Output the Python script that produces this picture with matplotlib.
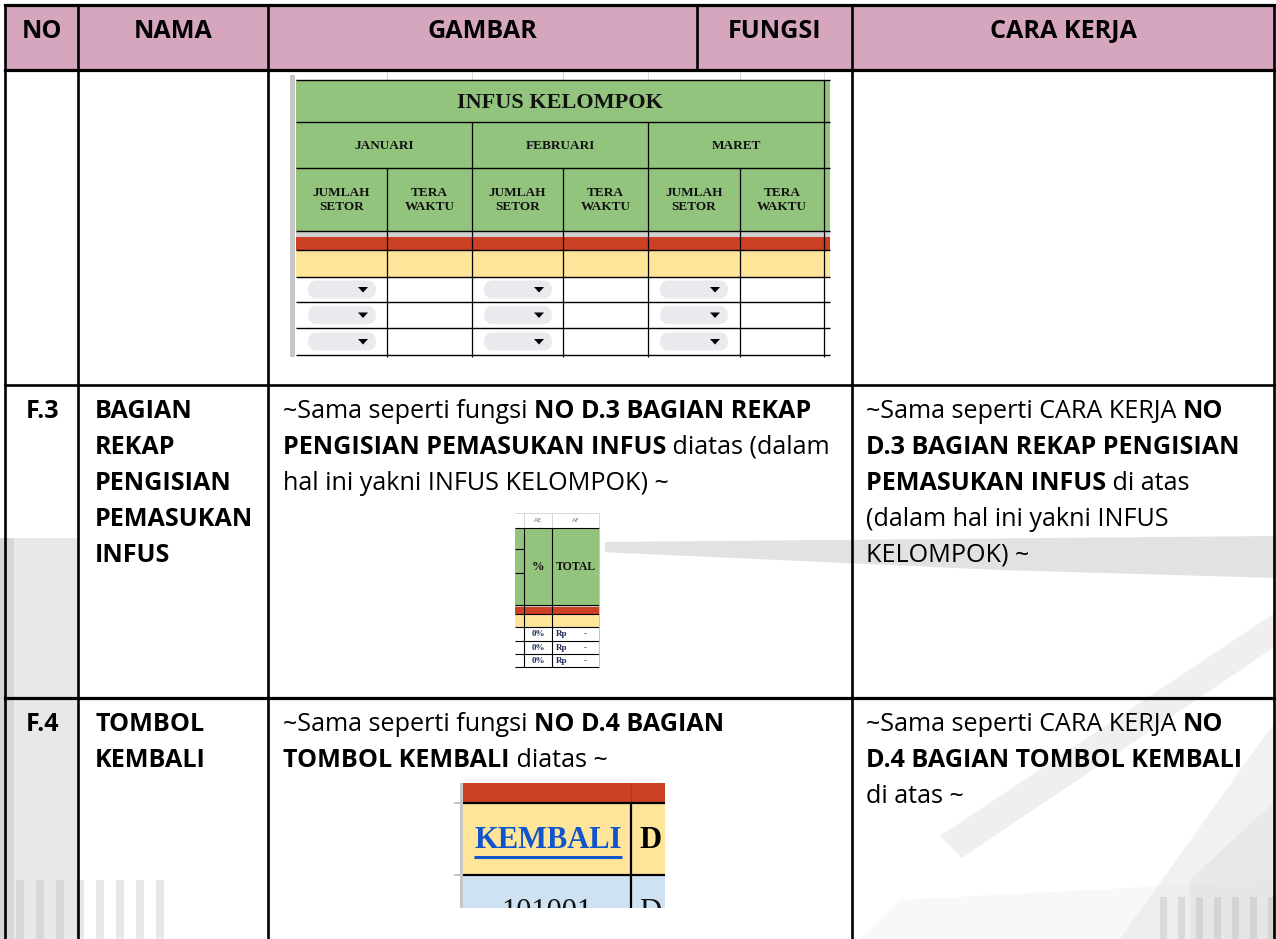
import matplotlib
matplotlib.use("Agg")
import matplotlib.pyplot as plt
from matplotlib.patches import Rectangle, FancyBboxPatch, Polygon

# ---------------- content ----------------
headers = ["NO", "NAMA", "GAMBAR", "FUNGSI", "CARA KERJA"]
row_no = ["F.3", "F.4"]
row_nama = [["BAGIAN", "REKAP", "PENGISIAN", "PEMASUKAN", "INFUS"],
            ["TOMBOL", "KEMBALI"]]
row_gambar = [
    [[("~Sama seperti fungsi ", False), ("NO D.3 BAGIAN REKAP", True)],
     [("PENGISIAN PEMASUKAN INFUS", True), (" diatas (dalam", False)],
     [("hal ini yakni INFUS KELOMPOK) ~", False)]],
    [[("~Sama seperti fungsi ", False), ("NO D.4 BAGIAN", True)],
     [("TOMBOL KEMBALI", True), (" diatas ~", False)]],
]
row_cara = [
    [[("~Sama seperti CARA KERJA ", False), ("NO", True)],
     [("D.3 BAGIAN REKAP PENGISIAN", True)],
     [("PEMASUKAN INFUS", True), (" di atas", False)],
     [("(dalam hal ini yakni INFUS", False)],
     [("KELOMPOK) ~", False)]],
    [[("~Sama seperti CARA KERJA ", False), ("NO", True)],
     [("D.4 BAGIAN TOMBOL KEMBALI", True)],
     [("di atas ~", False)]],
]
sheet_title = "INFUS KELOMPOK"
sheet_months = ["JANUARI", "FEBRUARI", "MARET"]
sheet_sub = ["JUMLAH\nSETOR", "TERA\nWAKTU"]
sheet2_heads = ["AE", "AF"]
sheet2_cols = ["%", "TOTAL"]
sheet2_vals = ["0%", "0%", "0%"]
sheet3_link = "KEMBALI"
sheet3_code = "101001"

# ---------------- colours ----------------
PINK = "#d5a6bd"
GREEN = "#93c47d"
RED = "#cc4125"
YELLOW = "#ffe599"
LBLUE = "#cfe2f3"
SANS = "Open Sans"
SERIF = "Liberation Serif"
FS = 18.1

W, H = 1276, 939
fig = plt.figure(figsize=(W / 100, H / 100), dpi=100)
ax = fig.add_axes([0, 0, 1, 1])
ax.set_xlim(0, W)
ax.set_ylim(H, 0)
ax.axis("off")
fig.patch.set_facecolor("white")
renderer = fig.canvas.get_renderer()

# ---------------- faded background photo ----------------
wm = [
    (Rectangle((0, 538), 78, 401), "#d2d2d2", 0.5),
    (Rectangle((0, 538), 14, 401), "#b0b0b0", 0.3),
    (Polygon([(600, 542), (1276, 536), (1276, 578), (1000, 570), (600, 552)]), "#c6c6c6", 0.5),
    (Polygon([(940, 836), (1276, 612), (1276, 646), (962, 858)]), "#c9bfc5", 0.25),
    (Polygon([(1120, 939), (1276, 720), (1276, 939)]), "#d3d3d3", 0.3),
    (Polygon([(1190, 880), (1276, 800), (1276, 939), (1190, 939)]), "#c4c4c4", 0.2),
    (Polygon([(860, 939), (900, 900), (1276, 880), (1276, 939)]), "#e4e4e4", 0.25),
]
for x0 in range(16, 165, 20):
    wm.append((Rectangle((x0, 880), 8, 59), "#b5b5b5", 0.3))
for x0 in range(1160, 1276, 18):
    wm.append((Rectangle((x0, 897), 7, 42), "#b5b5b5", 0.35))
for p, c, a in wm:
    p.set_facecolor(c)
    p.set_edgecolor("none")
    p.set_alpha(a)
    p.set_zorder(1)
    ax.add_patch(p)

# ---------------- table frame ----------------
X_L, X_NO, X_NAMA, X_GAM, X_FUN, X_R = 5, 78, 268, 697, 852, 1274
Y_T, Y_H, Y_1, Y_2 = 5, 70, 385, 698
ax.add_patch(Rectangle((X_L, Y_T), X_R - X_L, Y_H - Y_T, facecolor=PINK, edgecolor="none", zorder=2))

LW = 1.9
def hline(y, x0, x1, lw=LW, c="black", z=6):
    ax.plot([x0, x1], [y, y], color=c, lw=lw, zorder=z, solid_capstyle="projecting")
def vline(x, y0, y1, lw=LW, c="black", z=6):
    ax.plot([x, x], [y0, y1], color=c, lw=lw, zorder=z, solid_capstyle="projecting")

hline(Y_T, X_L, X_R, lw=2.3)
hline(Y_H, X_L, X_R, lw=2.3)
hline(Y_1, X_L, X_R)
hline(Y_2, X_L, X_R, lw=2.3)
for x in (X_L, X_NO, X_NAMA, X_FUN, X_R):
    vline(x, Y_T, H + 5)
vline(X_GAM, Y_T, Y_H)

# ---------------- header text ----------------
hx = [(X_L + X_NO) / 2, (X_NO + X_NAMA) / 2, (X_NAMA + X_GAM) / 2,
      (X_GAM + X_FUN) / 2, (X_FUN + X_R) / 2]
for x, t in zip(hx, headers):
    ax.text(x, 38, t, ha="center", va="baseline", fontsize=FS, fontweight="bold",
            family=SANS, color="black", zorder=7)

# ---------------- text helpers ----------------
def tw(s, **kw):
    t1 = ax.text(0, 0, "|" + s + "|", **kw)
    w1 = t1.get_window_extent(renderer).width
    t1.remove()
    t2 = ax.text(0, 0, "||", **kw)
    w2 = t2.get_window_extent(renderer).width
    t2.remove()
    return w1 - w2

def runs(x, y, parts):
    for s, b in parts:
        kw = dict(fontsize=FS, fontweight="bold" if b else "normal", family=SANS, color="black")
        ax.text(x, y, s, ha="left", va="baseline", zorder=7, **kw)
        x += tw(s, **kw)

LS = 36
row_base = [Y_1 + 33, Y_2 + 33]
for i in range(2):
    yb = row_base[i]
    ax.text(26, yb, row_no[i], ha="left", va="baseline", fontsize=FS, fontweight="bold",
            family=SANS, zorder=7)
    for j, t in enumerate(row_nama[i]):
        ax.text(95, yb + j * LS, t, ha="left", va="baseline", fontsize=FS, fontweight="bold",
                family=SANS, zorder=7)
    for j, parts in enumerate(row_gambar[i]):
        runs(283, yb + j * LS, parts)
    for j, parts in enumerate(row_cara[i]):
        runs(866, yb + j * LS, parts)

# ---------------- embedded sheet 1 (row 1) ----------------
SZ = 3
def rect(x0, y0, x1, y1, fc, z=SZ, ec="none", lw=0):
    ax.add_patch(Rectangle((x0, y0), x1 - x0, y1 - y0, facecolor=fc, edgecolor=ec, lw=lw, zorder=z))

def sl(x0, y0, x1, y1, c="black", lw=0.9):
    ax.plot([x0, x1], [y0, y1], color=c, lw=lw, zorder=SZ + 1, solid_capstyle="butt")

sx_l, sx_r = 296, 830
cols_main = [296, 472, 648, 824]
cols_sub = [387, 563, 740]
rect(290, 72, sx_r, 357, "white", z=2.5)
rect(290, 75, 295, 357, "#c6c6c6")
for x in cols_sub + cols_main[1:]:
    sl(x, 72, x, 80, c="#d9d9d9", lw=0.8)
rect(sx_l, 80, sx_r, 231, GREEN)
rect(sx_l, 231, sx_r, 237, "#d0d0d0")
rect(sx_l, 237, sx_r, 250, RED)
rect(sx_l, 250, sx_r, 277, YELLOW)
for y in (80, 122, 168, 231, 250, 277, 302, 328, 355):
    sl(sx_l, y, sx_r, y, lw=1.0)
for x in cols_main[1:]:
    sl(x, 122, x, 357)
sl(824, 80, 824, 122)
for x in cols_sub:
    sl(x, 168, x, 357)
ax.text(560, 103, sheet_title, ha="center", va="center", fontsize=16, fontweight="bold",
        family=SERIF, color="#111111", zorder=SZ + 2)
for k, m in enumerate(sheet_months):
    cx = (cols_main[k] + cols_main[k + 1]) / 2
    ax.text(cx, 146, m, ha="center", va="center", fontsize=9.5, fontweight="bold",
            family=SERIF, color="#111111", zorder=SZ + 2)
    subx = [cols_main[k], cols_sub[k], cols_main[k + 1]]
    for s in range(2):
        ax.text((subx[s] + subx[s + 1]) / 2, 200, sheet_sub[s], ha="center", va="center",
                fontsize=9.5, fontweight="bold", family=SERIF, color="#111111",
                linespacing=1.25, zorder=SZ + 2)
    for r, yc in enumerate((289.5, 315, 341.5)):
        px0 = cols_main[k] + 12
        ax.add_patch(FancyBboxPatch((px0, yc - 9), 68, 18,
                                    boxstyle="round,pad=0,rounding_size=9",
                                    facecolor="#e8eaed", edgecolor="none", zorder=SZ + 1))
        tx = px0 + 55
        ax.add_patch(Polygon([(tx - 5, yc - 2.5), (tx + 5, yc - 2.5), (tx, yc + 3)],
                             facecolor="black", edgecolor="none", zorder=SZ + 2))

# ---------------- embedded sheet 2 (row 2) ----------------
b_l, b_c1, b_c2, b_r = 515, 524, 552, 599
rect(b_l, 512, b_r + 6, 668, "white", z=2.5)
for x in (b_c1, b_c2, b_r):
    sl(x, 513, x, 528, c="#d6d6d6", lw=0.7)
sl(b_l, 513, b_r, 513, c="#d6d6d6", lw=0.7)
ax.text((b_c1 + b_c2) / 2, 520.5, sheet2_heads[0], ha="center", va="center", fontsize=4.5,
        family="DejaVu Sans", color="#777777", zorder=SZ + 2)
ax.text((b_c2 + b_r) / 2, 520.5, sheet2_heads[1], ha="center", va="center", fontsize=4.5,
        family="DejaVu Sans", color="#777777", zorder=SZ + 2)
rect(b_l, 528, b_r, 605, GREEN)
rect(b_l, 605, b_r, 607, "#cfcfcf")
rect(b_l, 607, b_r, 614, RED)
rect(b_l, 614, b_r, 627, YELLOW)
for y in (528, 605, 614, 627, 641, 654, 667):
    sl(b_l, y, b_r, y, lw=0.8)
sl(b_l, 549, b_c1, 549, lw=0.8)
sl(b_l, 573, b_c1, 573, lw=0.8)
sl(b_c1, 528, b_c1, 667, lw=0.8)
sl(b_c2, 528, b_c2, 667, lw=0.8)
sl(b_r, 528, b_r, 667, c="#bbbbbb", lw=0.6)
ax.text((b_c1 + b_c2) / 2, 567, sheet2_cols[0], ha="center", va="center", fontsize=9,
        fontweight="bold", family=SERIF, color="#111111", zorder=SZ + 2)
ax.text((b_c2 + b_r) / 2, 567, sheet2_cols[1], ha="center", va="center", fontsize=8.5,
        fontweight="bold", family=SERIF, color="#111111", zorder=SZ + 2)
for r, yc in enumerate((634.5, 648, 661)):
    ax.text(538, yc, sheet2_vals[r], ha="center", va="center", fontsize=6.5,
            fontweight="bold", family=SERIF, color="#1c2a5a", zorder=SZ + 2)
    ax.text(556, yc, "Rp", ha="left", va="center", fontsize=6.5,
            fontweight="bold", family=SERIF, color="#1c2a5a", zorder=SZ + 2)
    ax.text(585, yc, "-", ha="center", va="center", fontsize=6.5,
            family=SERIF, color="#1c2a5a", zorder=SZ + 2)

# ---------------- embedded sheet 3 (row 3) ----------------
c_l, c_m, c_r = 463, 631, 665
rect(c_l, 783, c_r, 803, RED)
rect(c_l, 803, c_r, 875, YELLOW)
rect(c_l, 875, c_r, 908, LBLUE)
rect(460, 783, 463, 908, "#c6c6c6")
sl(c_m, 783, c_m, 803, c="#a83a22", lw=1.0)
sl(c_l, 803, c_r, 803, lw=1.6)
sl(c_l, 875, c_r, 875, lw=1.6)
sl(c_m, 803, c_m, 908, lw=1.6)
sl(454, 803, 460, 803, c="#bbbbbb", lw=1.2)
sl(454, 875, 460, 875, c="#bbbbbb", lw=1.2)
clip = Rectangle((c_l, 783), c_r - c_l, 908 - 783, transform=ax.transData)
t_link = ax.text((c_l + c_m) / 2 + 1, 841, sheet3_link, ha="center", va="center", fontsize=22,
                 fontweight="bold", family=SERIF, color="#1155cc", zorder=SZ + 2, clip_on=True)
lw_link = tw(sheet3_link, fontsize=22, fontweight="bold", family=SERIF)
lx0 = (c_l + c_m) / 2 + 1 - lw_link / 2
sl(lx0, 857, lx0 + lw_link, 857, c="#1155cc", lw=2.2)
t_d1 = ax.text(c_m + 8, 841, "D", ha="left", va="center", fontsize=22, fontweight="bold",
               family=SERIF, color="black", zorder=SZ + 2, clip_on=True)
t_code = ax.text((c_l + c_m) / 2, 913, sheet3_code, ha="center", va="center", fontsize=22,
                 family=SERIF, color="#111111", zorder=SZ + 2, clip_on=True)
t_d2 = ax.text(c_m + 8, 913, "D", ha="left", va="center", fontsize=22,
               family=SERIF, color="#111111", zorder=SZ + 2, clip_on=True)
for t in (t_link, t_d1, t_code, t_d2):
    t.set_clip_path(clip)

fig.savefig("out.png", dpi=100, facecolor="white")
